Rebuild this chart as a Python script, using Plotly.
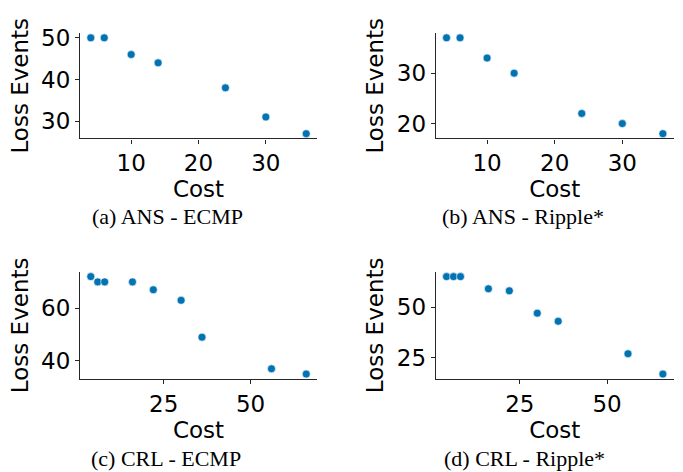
import plotly.graph_objects as go

# ---- data ----
ans_cost = [4, 6, 10, 14, 24, 30, 36]
ans_ecmp_loss = [50, 50, 46, 44, 38, 31, 27]
ans_ripple_loss = [37, 37, 33, 30, 22, 20, 18]

crl_cost = [4, 6, 8, 16, 22, 30, 36, 56, 66]
crl_ecmp_loss = [72, 70, 70, 70, 67, 63, 49, 37, 35]
crl_ripple_loss = [65, 65, 65, 59, 58, 47, 43, 27, 17]

captions = ["(a) ANS - ECMP", "(b) ANS - Ripple*", "(c) CRL - ECMP", "(d) CRL - Ripple*"]
x_ticks = [[10, 20, 30], [10, 20, 30], [25, 50], [25, 50]]
y_ticks = [[30, 40, 50], [20, 30], [40, 60], [25, 50]]

series = [
    (ans_cost, ans_ecmp_loss),
    (ans_cost, ans_ripple_loss),
    (crl_cost, crl_ecmp_loss),
    (crl_cost, crl_ripple_loss),
]

W, H = 683, 472
x_domains = [[80 / W, 317 / W], [435.7 / W, 673.7 / W]]
y_domains = [[1 - 132.7 / H, 1 - 25.5 / H], [1 - 377.3 / H, 1 - 268.3 / H]]
caption_pos = [(167, 212), (523, 212), (166, 458), (524, 458)]

COLOR = "#0173b2"
AXIS_COLOR = "#262626"
FONT = "DejaVu Sans"

fig = go.Figure()
layout = dict(
    width=W, height=H,
    margin=dict(l=0, r=0, t=0, b=0),
    paper_bgcolor="white", plot_bgcolor="white",
    showlegend=False,
    font=dict(family=FONT, size=23, color="black"),
)

def pad_range(vals, frac=0.05):
    lo, hi = min(vals), max(vals)
    d = (hi - lo) * frac
    return [lo - d, hi + d]

annotations = []
for i, (xs, ys) in enumerate(series):
    row, col = divmod(i, 2)
    n = "" if i == 0 else str(i + 1)
    fig.add_trace(go.Scatter(
        x=xs, y=ys, mode="markers",
        marker=dict(color=COLOR, size=8, line=dict(color="white", width=0.6)),
        xaxis="x" + n, yaxis="y" + n,
    ))
    axis_common = dict(
        showgrid=False, zeroline=False, showline=True,
        linecolor=AXIS_COLOR, linewidth=1.1,
        ticks="outside", ticklen=4, tickwidth=1, tickcolor=AXIS_COLOR,
        tickfont=dict(family=FONT, size=23, color="black"),
    )
    layout["xaxis" + n] = dict(
        axis_common, domain=x_domains[col], anchor="y" + n,
        range=pad_range(xs), tickvals=x_ticks[i],
        title=dict(text="Cost", font=dict(family=FONT, size=23), standoff=1),
    )
    layout["yaxis" + n] = dict(
        axis_common, domain=y_domains[row], anchor="x" + n,
        range=pad_range(ys), tickvals=y_ticks[i],
        title=dict(text="Loss Events", font=dict(family=FONT, size=23), standoff=6),
    )
    cx, cy = caption_pos[i]
    annotations.append(dict(
        text=captions[i], x=cx / W, y=1 - cy / H, xref="paper", yref="paper",
        xanchor="center", yanchor="middle", showarrow=False,
        font=dict(family="Liberation Serif", size=22, color="black"),
    ))

layout["annotations"] = annotations
fig.update_layout(**layout)
fig.write_html(
    "out.html",
    config={"displayModeBar": False},
    post_script="document.body.style.margin='0';document.body.style.padding='0';",
)
